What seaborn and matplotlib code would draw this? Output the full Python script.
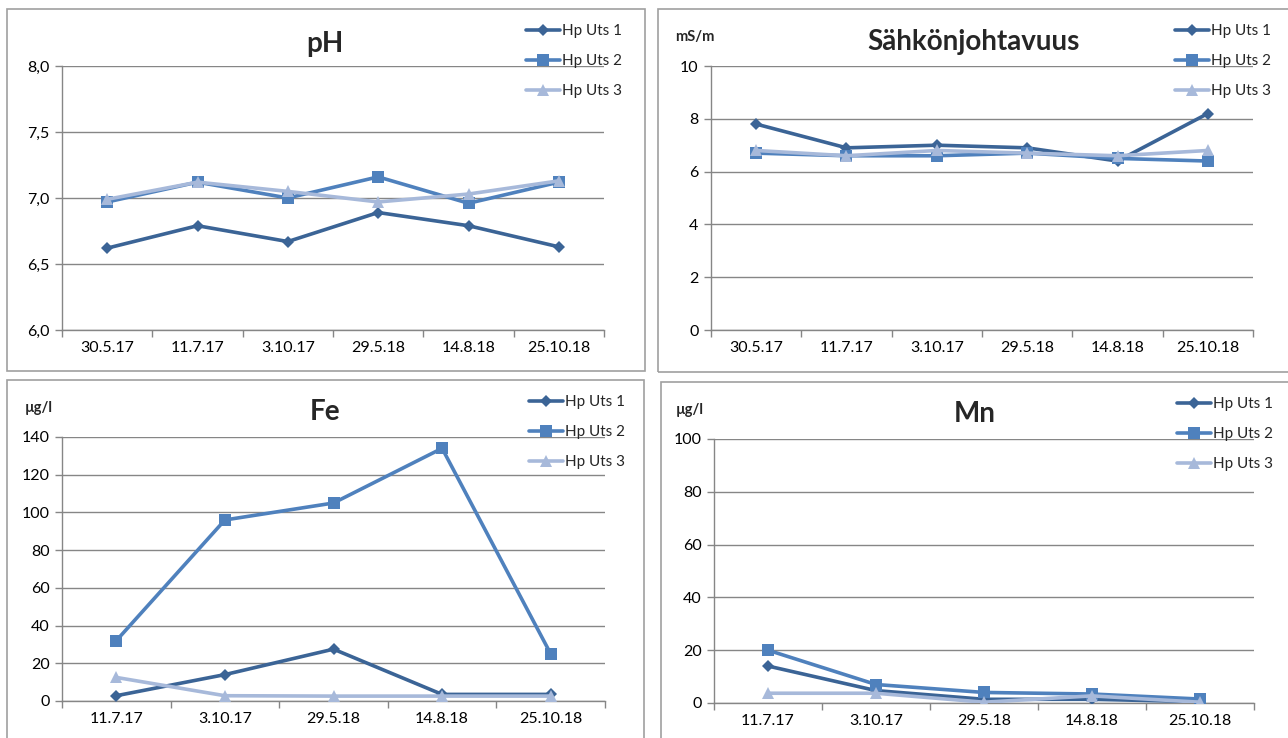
import matplotlib
matplotlib.use("Agg")
import matplotlib.pyplot as plt
from matplotlib.lines import Line2D
from matplotlib.patches import Rectangle
from matplotlib.ticker import FixedLocator, FuncFormatter
import pandas as pd
import seaborn as sns

# ---- data -------------------------------------------------------------
sites = ["Hp Uts 1", "Hp Uts 2", "Hp Uts 3"]

ph_dates = ["30.5.17", "11.7.17", "3.10.17", "29.5.18", "14.8.18", "25.10.18"]
ph_uts1 = [6.62, 6.79, 6.67, 6.89, 6.79, 6.63]
ph_uts2 = [6.97, 7.12, 7.00, 7.16, 6.96, 7.12]
ph_uts3 = [6.99, 7.12, 7.05, 6.97, 7.03, 7.13]

ec_dates = ["30.5.17", "11.7.17", "3.10.17", "29.5.18", "14.8.18", "25.10.18"]
ec_uts1 = [7.8, 6.9, 7.0, 6.9, 6.4, 8.2]
ec_uts2 = [6.7, 6.6, 6.6, 6.7, 6.5, 6.4]
ec_uts3 = [6.8, 6.6, 6.8, 6.7, 6.6, 6.8]

metal_dates = ["11.7.17", "3.10.17", "29.5.18", "14.8.18", "25.10.18"]
fe_uts1 = [2.8, 14.0, 27.5, 3.5, 3.5]
fe_uts2 = [32.0, 96.0, 105.0, 134.0, 25.0]
fe_uts3 = [12.5, 2.8, 2.6, 2.6, 2.6]

mn_uts1 = [14.0, 4.7, 1.4, 1.4, 0.5]
mn_uts2 = [20.0, 7.0, 4.0, 3.4, 1.5]
mn_uts3 = [3.7, 3.7, 0.3, 2.7, 0.3]

# ---- style ------------------------------------------------------------
sns.set_style("white")
plt.rcParams["font.family"] = ["Lato", "DejaVu Sans"]

colors = {"Hp Uts 1": "#3B6496", "Hp Uts 2": "#4F81BD", "Hp Uts 3": "#A7B9DA"}
markers = {"Hp Uts 1": "D", "Hp Uts 2": "s", "Hp Uts 3": "^"}
msizes = {"Hp Uts 1": 6.5, "Hp Uts 2": 8, "Hp Uts 3": 8}
GRID = "#868686"
FRAME = "#A0A0A0"
TICK_FS = 11.5

W, H = 1288, 738
fig = plt.figure(figsize=(W / 100, H / 100), dpi=100)


def fx(px):
    return px / W


def fy(py):
    return 1 - py / H


def add_panel(frame, axbox, title, title_xy, unit, unit_xy, legend_xy,
              dates, series, ylim, yticks, fmt):
    # outer chart frame
    x0, y0, x1, y1 = frame
    fig.patches.append(Rectangle((fx(x0), fy(y1)), fx(x1 - x0), (y1 - y0) / H,
                                 transform=fig.transFigure, fill=False,
                                 edgecolor=FRAME, linewidth=1.2, zorder=0))
    l, t, r, b = axbox
    ax = fig.add_axes([fx(l), fy(b), fx(r - l), (b - t) / H])

    rows = []
    for site, vals in zip(sites, series):
        for i, v in enumerate(vals):
            rows.append({"pos": i, "value": v, "site": site})
    df = pd.DataFrame(rows)

    for site in sites:
        sub = df[df["site"] == site]
        sns.lineplot(data=sub, x="pos", y="value", color=colors[site],
                     marker=markers[site], markersize=msizes[site],
                     markeredgewidth=0, linewidth=2.6, ax=ax, legend=False,
                     sort=False, zorder=3)

    n = len(dates)
    ax.set_xlim(-0.5, n - 0.5)
    ax.set_ylim(*ylim)
    ax.set_xlabel("")
    ax.set_ylabel("")

    # category boundaries carry tick marks, labels sit at category centres
    ax.xaxis.set_major_locator(FixedLocator([i - 0.5 for i in range(n + 1)]))
    ax.xaxis.set_major_formatter(FuncFormatter(lambda v, p: ""))
    ax.xaxis.set_minor_locator(FixedLocator(list(range(n))))
    ax.set_xticklabels(dates, minor=True)
    ax.tick_params(axis="x", which="major", length=5, width=1, color=GRID,
                   direction="out", bottom=True)
    ax.tick_params(axis="x", which="minor", length=0, pad=8,
                   labelsize=TICK_FS, labelcolor="#000000")

    ax.set_yticks(yticks)
    ax.yaxis.set_major_formatter(FuncFormatter(fmt))
    ax.tick_params(axis="y", length=5, width=1, color=GRID, direction="out",
                   left=True, pad=4, labelsize=TICK_FS, labelcolor="#000000")

    ax.grid(axis="y", color=GRID, linewidth=1)
    ax.grid(axis="x", visible=False)
    ax.set_axisbelow(True)
    for side in ("top", "right"):
        ax.spines[side].set_visible(False)
    for side in ("left", "bottom"):
        ax.spines[side].set_color(GRID)
        ax.spines[side].set_linewidth(1)

    fig.text(fx(title_xy[0]), fy(title_xy[1]), title, ha="center",
             va="center", fontsize=20, fontweight="bold")
    if unit:
        fig.text(fx(unit_xy[0]), fy(unit_xy[1]), unit, ha="center",
                 va="center", fontsize=10.5, fontweight="bold")

    handles = [Line2D([0], [0], color=colors[s], marker=markers[s],
                      markersize=msizes[s], markeredgewidth=0, linewidth=2.6)
               for s in sites]
    ax.legend(handles, sites, loc="upper left",
              bbox_to_anchor=(fx(legend_xy[0]), fy(legend_xy[1])),
              bbox_transform=fig.transFigure, frameon=False, fontsize=11,
              handlelength=2.2, handletextpad=0.15, labelspacing=1.05,
              borderpad=0, borderaxespad=0)
    return ax


fmt_ph = lambda v, p: f"{v:.1f}".replace(".", ",")
fmt_int = lambda v, p: f"{v:.0f}"

add_panel((7, 9, 645, 371), (62, 66, 604, 330), "pH", (325, 44), None, None,
          (526, 24), ph_dates, [ph_uts1, ph_uts2, ph_uts3], (6.0, 8.0),
          [6.0, 6.5, 7.0, 7.5, 8.0], fmt_ph)

add_panel((658, 9, 1300, 372), (711, 66, 1253, 330), "Sähkönjohtavuus",
          (973, 42), "mS/m", (695, 37), (1175, 24), ec_dates,
          [ec_uts1, ec_uts2, ec_uts3], (0, 10), [0, 2, 4, 6, 8, 10], fmt_int)

add_panel((7, 380, 644, 745), (62, 437, 605, 701), "Fe", (325, 412),
          "µg/l", (39, 408), (529, 395), metal_dates,
          [fe_uts1, fe_uts2, fe_uts3], (0, 140),
          [0, 20, 40, 60, 80, 100, 120, 140], fmt_int)

add_panel((661, 382, 1300, 745), (714, 439, 1254, 703), "Mn", (975, 414),
          "µg/l", (690, 410), (1177, 397), metal_dates,
          [mn_uts1, mn_uts2, mn_uts3], (0, 100),
          [0, 20, 40, 60, 80, 100], fmt_int)

fig.savefig("out.png", dpi=100, facecolor="white")
